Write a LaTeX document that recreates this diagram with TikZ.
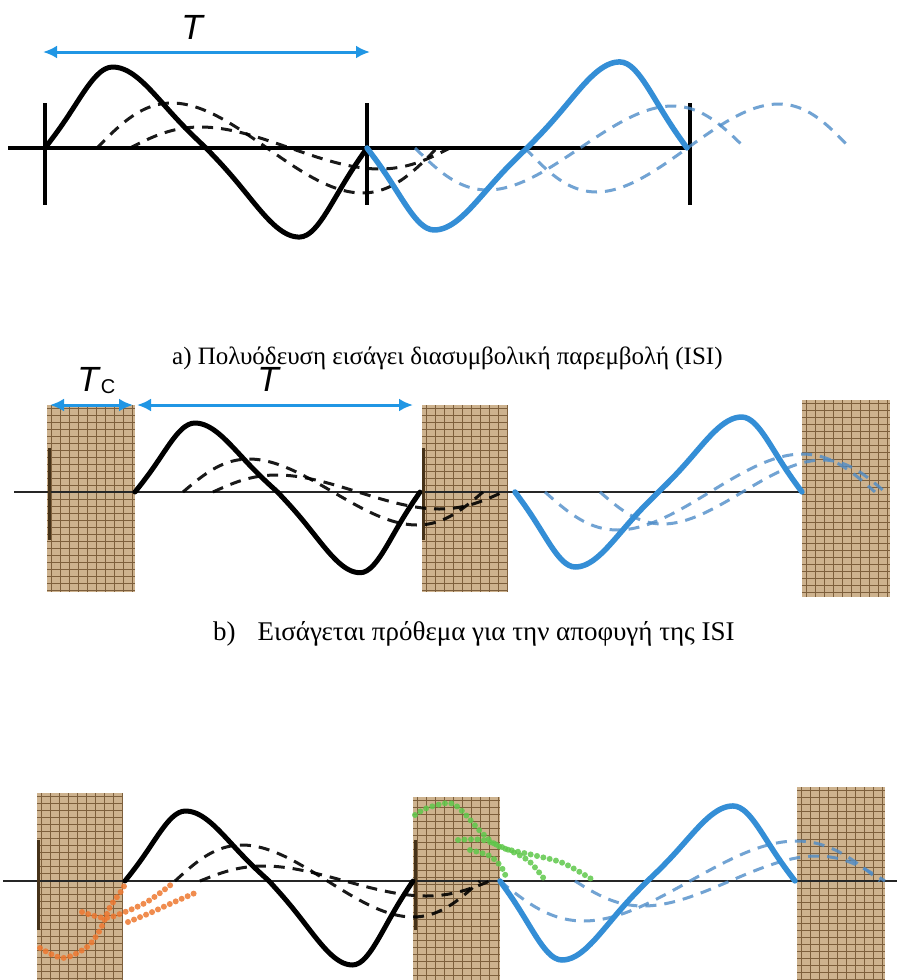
\documentclass[tikz,border=0pt]{standalone}
\usepackage{fontspec}
\setmainfont{Liberation Serif}
\newfontfamily\arialf{Liberation Sans}
\usetikzlibrary{arrows.meta}
\definecolor{wblue}{RGB}{52,142,214}
\definecolor{ablue}{RGB}{32,150,228}
\definecolor{dblue}{RGB}{78,140,200}
\definecolor{boxfill}{RGB}{205,178,142}
\definecolor{gridc}{RGB}{125,95,60}
\definecolor{tickc}{RGB}{70,50,25}
\definecolor{orng}{RGB}{238,120,48}
\definecolor{grn}{RGB}{95,200,75}
\tikzset{
 axisA/.style={line width=4pt, black},
 axisB/.style={line width=2pt, black!85},
 tickA/.style={line width=3.2pt, black},
 tickB/.style={line width=3pt, tickc},
 solidk/.style={line width=5pt, black, line join=round, line cap=round},
 solidb/.style={line width=5.5pt, wblue, line join=round, line cap=round},
 dashk/.style={line width=3pt, black, dash pattern=on 11pt off 8pt, opacity=0.9},
 dashb/.style={line width=3pt, dblue, dash pattern=on 11pt off 8pt, opacity=0.8},
 dotso/.style={line width=6pt, orng, line cap=round, dash pattern=on 0pt off 6.5pt, opacity=0.85},
 dotsg/.style={line width=6pt, grn, line cap=round, dash pattern=on 0pt off 6.5pt, opacity=0.85},
 gridl/.style={line width=0.8pt, gridc},
 tarrow/.style={line width=3pt, ablue, {Latex[length=14pt,width=13pt]}-{Latex[length=14pt,width=13pt]}},
 capa/.style={font=\fontsize{25}{30}\selectfont, inner sep=0pt, anchor=base west},
 capb/.style={font=\fontsize{27}{32}\selectfont, inner sep=0pt, anchor=base west},
 tlabel/.style={font=\arialf\itshape\fontsize{35}{40}\selectfont, inner sep=0pt},
 sublabel/.style={font=\arialf\fontsize{20}{24}\selectfont, inner sep=0pt},
}
% solid symbol: start x, axis y, period, amplitude (sign), factor of the second half
\newcommand{\solidw}[6]{\draw[#1, shift={(#2,#3)}, xscale=#4, yscale=#5] plot[domain=0:1, samples=73, smooth, variable=\q] ({0.84*min(\q,0.25)+1.16*max(min(\q,0.75)-0.25,0)+0.84*max(\q-0.75,0)}, {(sin(360*\q)-sin(1080*\q)/12)/1.0833*(1+(#6-1)*(\q>0.5))});}
\newcommand{\dashw}[5]{\draw[#1, shift={(#2,#3)}, xscale=#4, yscale=#5] plot[domain=0:1, samples=49, smooth, variable=\q] ({\q-0.03*sin(360*\q)}, {sin(360*\q)});}
\newcommand{\gbox}[4]{%
 \fill[boxfill] (#1,#2) rectangle (#3,#4);
 \begin{scope}
 \clip (#1,#2) rectangle (#3,#4);
 \foreach \gx in {0,...,11} \draw[gridl] ({#1+4+\gx*9},#2) -- ({#1+4+\gx*9},#4);
 \foreach \gy in {0,...,28} \draw[gridl] (#1,{#2+3+\gy*7}) -- (#3,{#2+3+\gy*7});
 \end{scope}}
\begin{document}
\begin{tikzpicture}[x=1pt,y=-1pt]
\fill[white] (0,0) rectangle (897,980);
\useasboundingbox (0,0) rectangle (897,980);

% ---------------- panel a ----------------
\draw[axisA] (8,148) -- (690,148);
\draw[tickA] (45,103) -- (45,205);
\draw[tickA] (367,103) -- (367,205);
\draw[tickA] (690,103) -- (690,205);
\coordinate (aL) at (43,52);
\coordinate (aR) at (370,52);
\draw[tarrow] (aL) -- (aR);
\node[tlabel] (labTa) at (192,27) {T};
\dashw{dashk}{97}{148}{340}{-45}
\dashw{dashk}{130}{148}{320}{-21}
\dashw{dashb}{415}{148}{330}{42}
\dashw{dashb}{525}{148}{325}{44}
\solidw{solidk}{45}{148}{322}{-81}{1.1}
\solidw{solidb}{367}{148}{320}{82}{1.05}
\node[capa] (capA) at (172,364) {a) Πολυόδευση εισάγει διασυμβολική παρεμβολή (ISI)};

% ---------------- panel b ----------------
\gbox{47}{405}{135}{592}
\gbox{422}{405}{508}{592}
\gbox{802}{400}{890}{597}
\draw[axisB] (14,492) -- (803,492);
\draw[tickB] (49,448) -- (49,540);
\draw[tickB] (423,448) -- (423,540);
\coordinate (bL) at (50,405);
\coordinate (bM) at (133,405);
\coordinate (bN) at (137,405);
\coordinate (bR) at (413,405);
\draw[tarrow] (bL) -- (bM);
\draw[tarrow] (bN) -- (bR);
\node[tlabel] (labTc) at (88,379) {T};
\node[sublabel] (labC) at (108,387) {C};
\node[tlabel] (labTb) at (268,379) {T};
\dashw{dashk}{183}{492}{300}{-33}
\dashw{dashk}{213}{492}{290}{-17}
\dashw{dashb}{545}{492}{330}{38}
\dashw{dashb}{600}{492}{285}{32}
\solidw{solidk}{135}{492}{285}{-69}{1.17}
\solidw{solidb}{515}{492}{287}{75}{1.0}
\node[capb] (capB) at (213,640) {b)\hspace{22pt}Εισάγεται πρόθεμα για την αποφυγή της ISI};

% ---------------- panel c ----------------
\gbox{37}{793}{123}{980}
\gbox{413}{797}{500}{980}
\gbox{797}{787}{885}{980}
\draw[axisB] (3,881) -- (897,881);
\draw[tickB] (38,840) -- (38,930);
\draw[tickB] (415,840) -- (415,930);
\dashw{dashk}{175}{881}{305}{-36}
\dashw{dashk}{200}{881}{290}{-15}
\dashw{dashb}{500}{881}{380}{40}
\dashw{dashb}{575}{881}{310}{25}
\solidw{solidk}{125}{881}{288}{-70}{1.2}
\solidw{solidb}{500}{881}{295}{79}{0.95}
\draw[dotso] plot[smooth] coordinates {(40,948) (63,958) (87,947) (100,930) (110,907) (120,893) (127,881)};
\draw[dotso] plot[smooth] coordinates {(82,912) (105,918) (125,912) (145,903) (160,893) (173,883)};
\draw[dotso] plot[smooth] coordinates {(128,922) (150,913) (172,903) (195,893)};
\draw[dotsg] plot[smooth] coordinates {(415,815) (427,808) (450,803) (463,812) (482,833) (500,847) (533,855) (563,863) (593,880)};
\draw[dotsg] plot[smooth] coordinates {(458,840) (483,840) (513,852) (530,862) (545,880)};
\draw[dotsg] plot[smooth] coordinates {(470,850) (490,856) (502,868) (507,880)};
\end{tikzpicture}
\end{document}
